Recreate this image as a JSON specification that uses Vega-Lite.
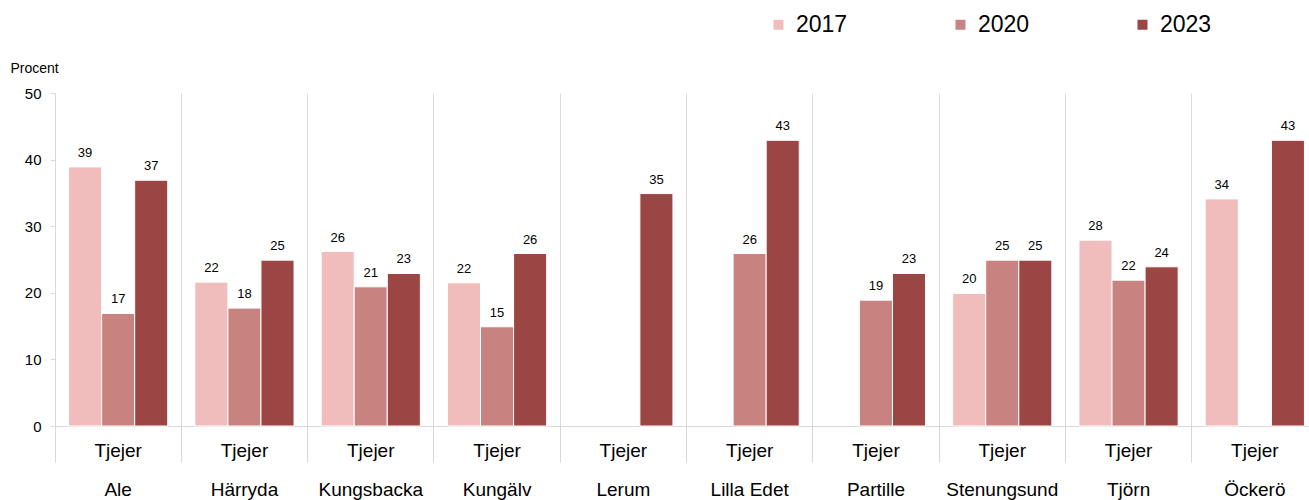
{
  "$schema": "https://vega.github.io/schema/vega-lite/v6.json",
  "width": 1263,
  "height": 333,
  "autosize": "none",
  "padding": {"left": 55, "top": 93, "right": 0, "bottom": 74},
  "background": "white",
  "config": {
    "font": "Liberation Sans",
    "view": {"stroke": null}
  },
  "data": {
    "values": [
      {"kommun": "Ale", "year": "2017", "value": 38.9},
      {"kommun": "Ale", "year": "2020", "value": 16.9},
      {"kommun": "Ale", "year": "2023", "value": 36.9},
      {"kommun": "Härryda", "year": "2017", "value": 21.6},
      {"kommun": "Härryda", "year": "2020", "value": 17.7},
      {"kommun": "Härryda", "year": "2023", "value": 24.9},
      {"kommun": "Kungsbacka", "year": "2017", "value": 26.2},
      {"kommun": "Kungsbacka", "year": "2020", "value": 20.9},
      {"kommun": "Kungsbacka", "year": "2023", "value": 22.9},
      {"kommun": "Kungälv", "year": "2017", "value": 21.5},
      {"kommun": "Kungälv", "year": "2020", "value": 14.9},
      {"kommun": "Kungälv", "year": "2023", "value": 25.9},
      {"kommun": "Lerum", "year": "2023", "value": 34.9},
      {"kommun": "Lilla Edet", "year": "2020", "value": 25.9},
      {"kommun": "Lilla Edet", "year": "2023", "value": 42.9},
      {"kommun": "Partille", "year": "2020", "value": 18.9},
      {"kommun": "Partille", "year": "2023", "value": 22.9},
      {"kommun": "Stenungsund", "year": "2017", "value": 19.9},
      {"kommun": "Stenungsund", "year": "2020", "value": 24.9},
      {"kommun": "Stenungsund", "year": "2023", "value": 24.9},
      {"kommun": "Tjörn", "year": "2017", "value": 27.9},
      {"kommun": "Tjörn", "year": "2020", "value": 21.9},
      {"kommun": "Tjörn", "year": "2023", "value": 23.9},
      {"kommun": "Öckerö", "year": "2017", "value": 34.1},
      {"kommun": "Öckerö", "year": "2023", "value": 42.9}
    ]
  },
  "encoding": {
    "x": {
      "field": "kommun",
      "type": "nominal",
      "sort": null,
      "scale": {"paddingInner": 0, "paddingOuter": 0},
      "axis": {
        "title": null,
        "labelAngle": 0,
        "labelExpr": "['Tjejer', datum.label]",
        "labelFontSize": 19,
        "labelColor": "#000000",
        "labelLineHeight": 39,
        "labelPadding": -21,
        "labelBaseline": "top",
        "bandPosition": 0,
        "ticks": true,
        "tickSize": 36,
        "tickColor": "#d9d9d9",
        "grid": true,
        "gridColor": "#dcdcdc",
        "domainColor": "#d9d9d9"
      }
    },
    "xOffset": {
      "field": "year",
      "type": "nominal",
      "scale": {"domain": ["2017", "2020", "2023"], "paddingInner": 0, "paddingOuter": 0.41}
    },
    "y": {
      "field": "value",
      "type": "quantitative",
      "scale": {"domain": [0, 50], "nice": false},
      "axis": {
        "values": [0, 10, 20, 30, 40, 50],
        "title": "Procent",
        "titleAngle": 0,
        "titleX": -45,
        "titleY": -25,
        "titleAlign": "left",
        "titleBaseline": "middle",
        "titleFontSize": 14,
        "titleFontWeight": "normal",
        "titleColor": "#000000",
        "labelFontSize": 15,
        "labelColor": "#000000",
        "labelPadding": 9,
        "tickSize": 5,
        "tickColor": "#d9d9d9",
        "domainColor": "#d9d9d9",
        "grid": false
      }
    }
  },
  "layer": [
    {
      "mark": {"type": "bar", "stroke": "white", "strokeWidth": 1},
      "encoding": {
        "color": {
          "field": "year",
          "type": "nominal",
          "scale": {"domain": ["2017", "2020", "2023"], "range": ["#f0bcbc", "#c88380", "#9b4644"]},
          "legend": {
            "title": null,
            "orient": "none",
            "direction": "horizontal",
            "legendX": 712,
            "legendY": -80,
            "symbolType": "square",
            "symbolSize": 100,
            "symbolStrokeWidth": 0,
            "labelFontSize": 23,
            "labelColor": "#000000",
            "labelOffset": 6,
            "columnPadding": 101
          }
        }
      }
    },
    {
      "mark": {"type": "text", "baseline": "alphabetic", "dy": -10, "fontSize": 13, "color": "#000000"},
      "encoding": {
        "text": {"field": "value", "type": "quantitative", "format": ".0f"}
      }
    }
  ]
}
